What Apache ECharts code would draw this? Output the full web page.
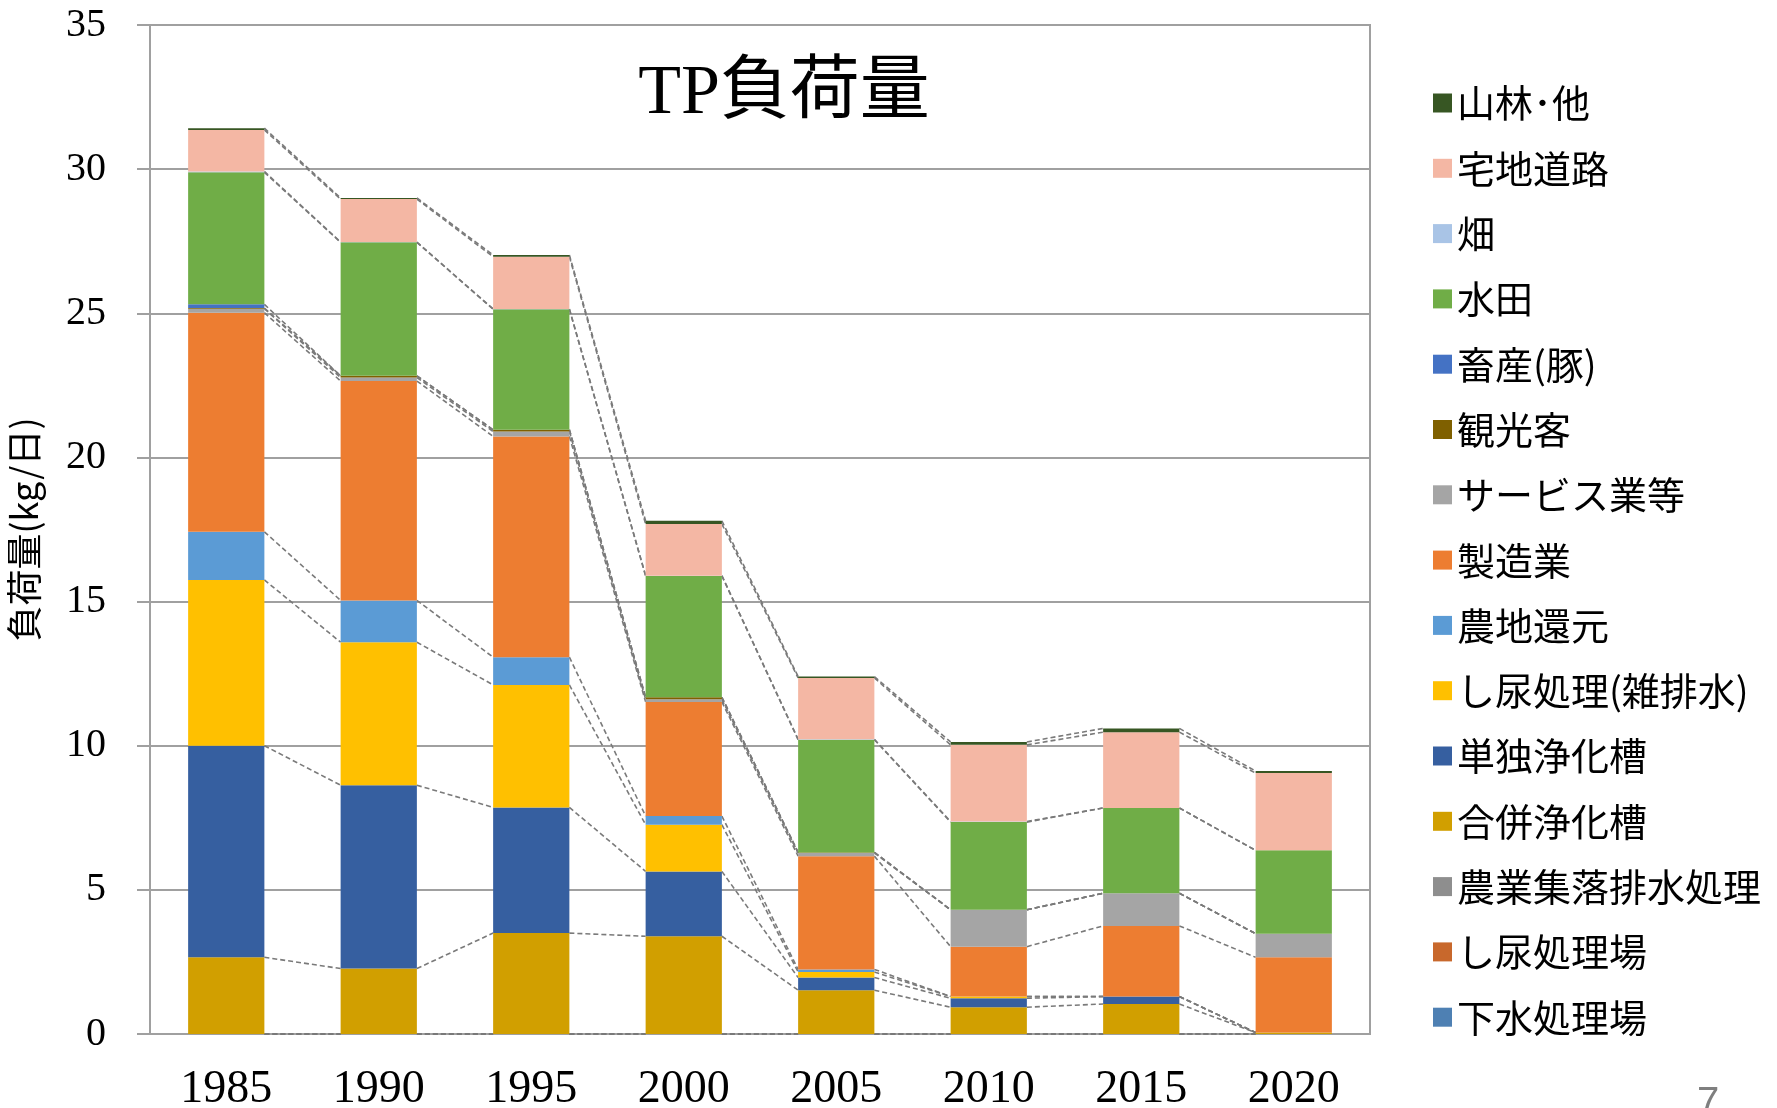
<!DOCTYPE html>
<html>
<head>
<meta charset="utf-8">
<script src="https://cdn.jsdelivr.net/npm/echarts@6/dist/echarts.min.js"></script>
<style>
html,body{margin:0;padding:0;background:#fff;}
#chart{width:1777px;height:1108px;}
</style>
</head>
<body>
<div id="chart"></div>
<script>
var categories = ['1985','1990','1995','2000','2005','2010','2015','2020'];
var yTicks = [0,5,10,15,20,25,30,35];

// series, bottom of stack to top
var seriesNames = ['下水処理場','し尿処理場','農業集落排水処理','合併浄化槽','単独浄化槽','し尿処理(雑排水)','農地還元','製造業','サービス業等','観光客','畜産(豚)','水田','畑','宅地道路','山林･他'];
var seriesColors = ['#4E80B3','#C8682C','#8E8E8E','#D19F00','#365FA0','#FFC000','#5B9BD5','#ED7D31','#A5A5A5','#7F6000','#4472C4','#70AD47','#A9C4E6','#F4B7A4','#375623'];

var gesui      = [0,0,0,0,0,0,0,0];
var shinyoJo   = [0,0,0,0,0,0,0,0];
var nouShuraku = [0,0,0,0,0,0,0,0];
var gappei     = [2.66,2.27,3.50,3.39,1.52,0.93,1.04,0.05];
var tandoku    = [7.34,6.36,4.36,2.25,0.44,0.31,0.26,0];
var zatsuhai   = [5.75,4.96,4.25,1.62,0.19,0.06,0,0];
var nouchi     = [1.67,1.45,0.96,0.30,0.09,0,0,0];
var seizou     = [7.60,7.61,7.66,3.96,3.93,1.73,2.45,2.61];
var service    = [0.14,0.12,0.17,0.09,0.11,1.28,1.13,0.82];
var kankou     = [0.02,0.06,0.06,0.07,0.02,0,0,0];
var chikusan   = [0.13,0,0,0,0,0,0,0];
var suiden     = [4.58,4.63,4.18,4.21,3.91,3.04,2.96,2.89];
var hatake     = [0.03,0.01,0.01,0.01,0.01,0.02,0,0];
var takuchi    = [1.44,1.49,1.81,1.79,2.13,2.66,2.63,2.68];
var sanrin     = [0.06,0.04,0.06,0.11,0.05,0.10,0.13,0.07];

var seriesValues = [gesui,shinyoJo,nouShuraku,gappei,tandoku,zatsuhai,nouchi,seizou,service,kankou,chikusan,suiden,hatake,takuchi,sanrin];

// cumulative tops for series lines
var tops = [];
for (var k = 0; k < seriesValues.length; k++) {
  tops.push(categories.map(function(_, i){
    var s = 0; for (var j = 0; j <= k; j++) s += seriesValues[j][i]; return s;
  }));
}

var chart = echarts.init(document.getElementById('chart'), null, {renderer:'canvas'});

var series = seriesNames.map(function(name, k){
  return {
    name: name, type: 'bar', stack: 'total', barWidth: '50%',
    itemStyle: {color: seriesColors[k]},
    data: seriesValues[k], z: 3
  };
});

series.push({
  name: 'series-lines', type: 'custom', z: 2, silent: true,
  data: categories.slice(0, categories.length - 1).map(function(_, i){ return [i, 0]; }),
  encode: {x: 0, y: 1},
  renderItem: function(params, api){
    var i = api.value(0);
    var half = api.size([1, 0])[0] * 0.25;
    var children = [];
    for (var k = 0; k < tops.length; k++) {
      var p1 = api.coord([i, tops[k][i]]);
      var p2 = api.coord([i + 1, tops[k][i + 1]]);
      children.push({
        type: 'line',
        shape: {x1: p1[0] + half, y1: p1[1], x2: p2[0] - half, y2: p2[1]},
        style: {stroke: '#7a7a7a', lineWidth: 1.6, lineDash: [5, 3]}
      });
    }
    return {type: 'group', children: children};
  }
});

chart.setOption({
  animation: false,
  backgroundColor: '#ffffff',
  title: {
    text: 'TP負荷量', left: 779, top: 55, textAlign: 'center',
    textStyle: {fontFamily: "'Liberation Serif','Noto Sans CJK JP'", fontSize: 70, fontWeight: 'normal', color: '#000'}
  },
  grid: {left: 150, right: 407, top: 25, bottom: 74, outerBoundsMode: 'none', containLabel: false,
    show: true, borderColor: '#a0a0a0', borderWidth: 2},
  legend: {
    orient: 'vertical', left: 1428, top: 78, itemGap: 25.3, itemWidth: 19, itemHeight: 19,
    icon: 'rect',
    data: seriesNames.slice().reverse(),
    textStyle: {fontFamily: "'Noto Sans CJK JP'", fontSize: 38, color: '#000', lineHeight: 40}
  },
  xAxis: {
    type: 'category', data: categories,
    axisLine: {lineStyle: {color: '#a0a0a0', width: 2}},
    axisTick: {length: 15, lineStyle: {color: '#a0a0a0', width: 2}},
    axisLabel: {fontFamily: "'Liberation Serif'", fontSize: 46, color: '#000', margin: 33}
  },
  yAxis: {
    type: 'value', min: 0, max: 35, interval: 5,
    name: '負荷量(kg/日)', nameLocation: 'middle', nameRotate: 90, nameGap: 108,
    nameTextStyle: {fontFamily: "'Noto Sans CJK JP'", fontSize: 36, color: '#000'},
    axisLine: {show: true, lineStyle: {color: '#a0a0a0', width: 2}},
    axisTick: {show: true, length: 13, lineStyle: {color: '#a0a0a0', width: 2}},
    axisLabel: {fontFamily: "'Liberation Serif'", fontSize: 40, color: '#000', margin: 44,
      formatter: function(v){ return yTicks.indexOf(v) >= 0 ? String(v) : ''; }},
    splitLine: {lineStyle: {color: '#a0a0a0', width: 2}}
  },
  graphic: [{
    type: 'text', left: 1697, top: 1084,
    style: {text: '7', font: "40px 'Liberation Sans'", fill: '#7f7f7f'}
  }],
  series: series
});
</script>
</body>
</html>
